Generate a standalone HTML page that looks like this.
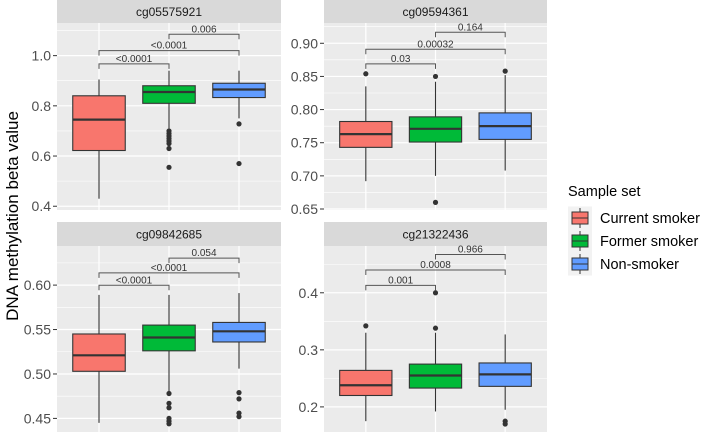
<!DOCTYPE html>
<html><head><meta charset="utf-8"><style>
body{margin:0;background:#fff;}
svg{display:block;font-family:"Liberation Sans",Arial,sans-serif;}
</style></head><body>
<svg id="chart" width="708" height="432"></svg>
<script>
const groups = ["Current smoker","Former smoker","Non-smoker"];
const colors = ["#F8766D","#00BA38","#619CFF"];
const panelTitles = ["cg05575921","cg09594361","cg09842685","cg21322436"];
// [lo, q1, med, q3, hi] per group per panel
const stats1 = [[0.43,0.622,0.745,0.84,0.905],[0.71,0.81,0.855,0.88,0.94],[0.75,0.833,0.865,0.89,0.94]];
const stats2 = [[0.692,0.743,0.763,0.782,0.835],[0.70,0.751,0.771,0.789,0.842],[0.708,0.755,0.775,0.795,0.852]];
const stats3 = [[0.445,0.503,0.521,0.545,0.589],[0.48,0.526,0.541,0.555,0.589],[0.506,0.536,0.548,0.558,0.591]];
const stats4 = [[0.175,0.22,0.238,0.264,0.33],[0.192,0.233,0.255,0.275,0.33],[0.195,0.236,0.257,0.277,0.327]];
const outl1 = [[],[0.70,0.69,0.68,0.67,0.66,0.65,0.63,0.555],[0.728,0.57]];
const outl2 = [[0.854],[0.850,0.660],[0.858]];
const outl3 = [[],[0.478,0.467,0.462,0.450,0.447,0.444],[0.479,0.472,0.456,0.452]];
const outl4 = [[0.342],[0.40,0.338],[0.175,0.170]];
const pLabels1 = ["<0.0001","<0.0001","0.006"];
const pLabels2 = ["0.03","0.00032","0.164"];
const pLabels3 = ["<0.0001","<0.0001","0.054"];
const pLabels4 = ["0.001","0.0008","0.966"];
const pY1 = [0.967,1.02,1.085];
const pY2 = [0.869,0.891,0.9166];
const pY3 = [0.5998,0.6138,0.6303];
const pY4 = [0.413,0.44,0.467];
const ticks1 = [0.4,0.6,0.8,1.0], tl1=["0.4","0.6","0.8","1.0"];
const ticks2 = [0.65,0.70,0.75,0.80,0.85,0.90], tl2=["0.65","0.70","0.75","0.80","0.85","0.90"];
const ticks3 = [0.45,0.50,0.55,0.60], tl3=["0.45","0.50","0.55","0.60"];
const ticks4 = [0.2,0.3,0.4], tl4=["0.2","0.3","0.4"];

const NS="http://www.w3.org/2000/svg";
const svg=document.getElementById('chart');
function mk(tag,attrs,parent){const e=document.createElementNS(NS,tag);for(const k in attrs)e.setAttribute(k,attrs[k]);(parent||svg).appendChild(e);return e;}

const panels=[
 {x0:57,x1:281,top:0,pt:23,pb:210,vmin:0.385,vmax:1.13,stats:stats1,outl:outl1,pl:pLabels1,py:pY1,ticks:ticks1,tl:tl1},
 {x0:324,x1:547,top:0,pt:23,pb:210,vmin:0.6485,vmax:0.9306,stats:stats2,outl:outl2,pl:pLabels2,py:pY2,ticks:ticks2,tl:tl2},
 {x0:57,x1:281,top:222,pt:246,pb:432,vmin:0.4347,vmax:0.644,stats:stats3,outl:outl3,pl:pLabels3,py:pY3,ticks:ticks3,tl:tl3},
 {x0:324,x1:547,top:222,pt:246,pb:432,vmin:0.156,vmax:0.482,stats:stats4,outl:outl4,pl:pLabels4,py:pY4,ticks:ticks4,tl:tl4}
];

panels.forEach((p,pi)=>{
  const g=mk('g',{});
  
  
  const y=v=>p.pb-(v-p.vmin)/(p.vmax-p.vmin)*(p.pb-p.pt);
  const w=p.x1-p.x0, step=w/3.2;
  const x=i=>p.x0+step*(0.6+i);
  const st=mk('rect',{x:p.x0,y:p.top,width:w,height:p.pt-p.top,fill:'#D9D9D9'},g);
  
  
  const stt=mk('text',{x:p.x0+w/2,y:p.top+(p.pt-p.top)/2+4.5,'text-anchor':'middle','font-size':'12',fill:'#1A1A1A'},g);
  stt.textContent=panelTitles[pi];
  
  
  mk('rect',{x:p.x0,y:p.pt,width:w,height:p.pb-p.pt,fill:'#EBEBEB'},g);
  const d=p.ticks[1]-p.ticks[0];
  for(let v=p.ticks[0]-d/2;v<=p.vmax;v+=d){ if(v<p.vmin)continue; mk('line',{x1:p.x0,x2:p.x1,y1:y(v),y2:y(v),stroke:'#fff','stroke-width':0.6},g);}
  p.ticks.forEach((v,i)=>{
    mk('line',{x1:p.x0,x2:p.x1,y1:y(v),y2:y(v),stroke:'#fff','stroke-width':1.2},g);
    mk('line',{x1:p.x0-4,x2:p.x0,y1:y(v),y2:y(v),stroke:'#333','stroke-width':1},g);
    const t=mk('text',{x:p.x0-6,y:y(v)+5,'text-anchor':'end','font-size':'14',fill:'#4D4D4D'},g);
    t.textContent=p.tl[i];
    
    
  });
  for(let i=0;i<3;i++) mk('line',{x1:x(i),x2:x(i),y1:p.pt,y2:p.pb,stroke:'#fff','stroke-width':1.2},g);
  const bw=step*0.75;
  p.stats.forEach((s,i)=>{
    const bg=mk('g',{},g);
    
    
    mk('line',{x1:x(i),x2:x(i),y1:y(s[0]),y2:y(s[1]),stroke:'#333','stroke-width':1.1},bg);
    mk('line',{x1:x(i),x2:x(i),y1:y(s[3]),y2:y(s[4]),stroke:'#333','stroke-width':1.1},bg);
    mk('rect',{x:x(i)-bw/2,y:y(s[3]),width:bw,height:y(s[1])-y(s[3]),fill:colors[i],stroke:'#333','stroke-width':1.1},bg);
    mk('line',{x1:x(i)-bw/2,x2:x(i)+bw/2,y1:y(s[2]),y2:y(s[2]),stroke:'#333','stroke-width':2.2},bg);
    p.outl[i].forEach(v=>{
      const c=mk('circle',{cx:x(i),cy:y(v),r:2.6,fill:'#333'},bg);
      
      
    });
  });
  const pairs=[[0,1],[0,2],[1,2]];
  pairs.forEach((pr,k)=>{
    const bk=mk('g',{},g);
    
    
    const yy=y(p.py[k]);
    mk('path',{d:`M${x(pr[0])},${yy+5}V${yy}H${x(pr[1])}V${yy+5}`,fill:'none',stroke:'#555','stroke-width':1},bk);
    const t=mk('text',{x:(x(pr[0])+x(pr[1]))/2,y:yy-2,'text-anchor':'middle','font-size':'10',fill:'#333'},bk);
    t.textContent=p.pl[k];
  });
});
const yt=mk('text',{x:0,y:0,transform:'translate(18,216) rotate(-90)','text-anchor':'middle','font-size':'17',fill:'#000'});
yt.textContent='DNA methylation beta value';


const lg=mk('g',{});


const lt=mk('text',{x:568,y:196,'font-size':'14.5',fill:'#000'},lg);
lt.textContent='Sample set';
groups.forEach((gname,i)=>{
  const e=mk('g',{},lg);
  
  
  const cy=218+i*23;
  mk('rect',{x:568,y:cy-11.5,width:24,height:23,fill:'#F2F2F2'},e);
  mk('line',{x1:580,x2:580,y1:cy-10,y2:cy+10,stroke:'#333','stroke-width':1},e);
  mk('rect',{x:572,y:cy-6,width:16,height:12,fill:colors[i],stroke:'#333','stroke-width':1},e);
  mk('line',{x1:572,x2:588,y1:cy,y2:cy,stroke:'#333','stroke-width':1},e);
  const t=mk('text',{x:600,y:cy+5,'font-size':'14.5',fill:'#000'},e);
  t.textContent=gname;
});
</script>
</body></html>
